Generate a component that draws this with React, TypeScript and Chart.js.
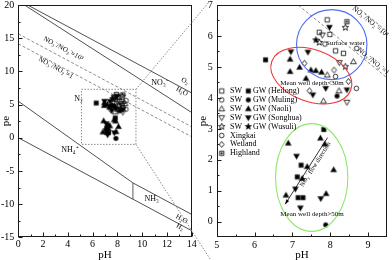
import React, { useEffect, useRef } from "react";
import { Chart, registerables } from "chart.js";

Chart.register(...registerables);

type Pt = [number, number];
const SERIF = '"Liberation Serif", "Times New Roman", serif';

// ---------------- axes ----------------
const leftXTicks = [0, 2, 4, 6, 8, 10, 12, 14];
const leftXMinor = [1, 3, 5, 7, 9, 11, 13];
const leftYTicks = [-15, -10, -5, 0, 5, 10, 15, 20];
const leftYMinor = [-12.5, -7.5, -2.5, 2.5, 7.5, 12.5, 17.5];
const rightXTicks = [5, 6, 7, 8, 9];
const rightXMinor = [5.5, 6.5, 7.5, 8.5];
const rightYTicks = [0, 1, 2, 3, 4, 5, 6, 7];
const rightYMinor = [0.5, 1.5, 2.5, 3.5, 4.5, 5.5, 6.5];

// ---------------- pe-pH boundary lines ----------------
const o2H2OLine: Pt[] = [[0, 20.75], [14, 6.75]];
const no3N2Line: Pt[] = [[0, 20.6], [14, 3.8]];
const ratio1000Line: Pt[] = [[0, 15.65], [14, 1.65]];
const ratio1Line: Pt[] = [[0, 14.15], [14, 0.15]];
const nh4N2Line: Pt[] = [[0, 5.5], [9.25, -6.8]];
const nh3N2Line: Pt[] = [[9.25, -6.8], [14, -11.55]];
const h2oH2Line: Pt[] = [[0, 0], [14, -14]];
const pKaLine: Pt[] = [[9.25, -6.8], [9.25, -9.25]];

// inset box (pH range, pe range)
const insetPH = [5.1, 9.5];
const insetPE = [-1, 7.3];

// ---------------- samples (pH, pe) ----------------
const swHeilong: Pt[] = [[7.92, 6.52], [7.71, 6.12], [7.99, 6.05], [8.14, 5.52], [8.35, 5.44]];
const gwHeilong: Pt[] = [[6.29, 5.23], [7.83, 2.98], [7.23, 1.83], [7.13, 1.45], [7.15, 0.78], [7.28, 0.78]];
const swMuling: Pt[] = [[7.86, 5.74], [8.7, 5.6], [8.14, 4.69]];
const gwMuling: Pt[] = [[8.18, 4.06], [7.88, -0.1]];
const swNaoli: Pt[] = [[8.61, 5.17], [7.92, 4.74], [8.23, 4.23], [7.82, 3.9]];
const gwNaoli: Pt[] = [
  [6.94, 5.25], [6.94, 4.85], [7.19, 4.99], [7.49, 4.9], [7.62, 4.88], [7.77, 4.83], [7.36, 4.63],
  [6.89, 2.54], [7.74, 2.7], [7.86, 2.51], [7.39, 1.78], [7.26, 1.4], [8.09, 1.68], [6.83, 0.86], [7.89, 0.91],
];
const swSonghua: Pt[] = [[7.79, 6.03], [8.24, 5.14], [8.44, 3.86]];
const gwSonghua: Pt[] = [
  [7.98, 6.28], [6.96, 5.49], [7.41, 5.48], [7.88, 4.31], [7.54, 4.1], [8.44, 4.26],
  [7.11, 2.12], [7.08, 1.06], [7.75, 0.75], [7.21, 0.45],
];
const swWusuli: Pt[] = [[8.4, 6.27], [7.71, 5.79], [8.4, 5.01]];
const gwWusuli: Pt[] = [[7.62, 5.87]];
const xingkai: Pt[] = [[8.69, 4.31]];
const wetland: Pt[] = [[7.32, 5.12], [8.1, 4.9], [8.48, 4.53], [7.45, 4.23]];
const highland: Pt[] = [[8.44, 6.46]];

const seriesDefs = [
  { name: "SW (Heilong)", data: swHeilong, marker: "square", filled: false },
  { name: "GW (Heilong)", data: gwHeilong, marker: "square", filled: true },
  { name: "SW (Muling)", data: swMuling, marker: "circle", filled: false },
  { name: "GW (Muling)", data: gwMuling, marker: "circle", filled: true },
  { name: "SW (Naoli)", data: swNaoli, marker: "up", filled: false },
  { name: "GW (Naoli)", data: gwNaoli, marker: "up", filled: true },
  { name: "SW (Songhua)", data: swSonghua, marker: "down", filled: false },
  { name: "GW (Songhua)", data: gwSonghua, marker: "down", filled: true },
  { name: "SW (Wusuli)", data: swWusuli, marker: "star", filled: false },
  { name: "GW (Wusuli)", data: gwWusuli, marker: "star", filled: true },
  { name: "Xingkai", data: xingkai, marker: "circle", filled: false },
  { name: "Wetland", data: wetland, marker: "diamond", filled: false },
  { name: "Highland", data: highland, marker: "highland", filled: false },
];

const legendRows = [
  { a: "square", t1: "SW", b: "square", t2: "GW (Heilong)" },
  { a: "circle", t1: "SW", b: "circle", t2: "GW (Muling)" },
  { a: "up", t1: "SW", b: "up", t2: "GW (Naoli)" },
  { a: "down", t1: "SW", b: "down", t2: "GW (Songhua)" },
  { a: "star", t1: "SW", b: "star", t2: "GW (Wusuli)" },
  { a: "circle", t1: "Xingkai", b: "", t2: "" },
  { a: "diamond", t1: "Wetland", b: "", t2: "" },
  { a: "highland", t1: "Highland", b: "", t2: "" },
];

// ---------------- annotations ----------------
const leftNotes = [
  { text: "NO₃⁻/NO₂⁻=10³", x: 3.63, y: 13.39, slope: true, size: 7 },
  { text: "NO₃⁻/NO₂⁻=1", x: 3.03, y: 10.52, slope: true, size: 7 },
  { text: "NO₃⁻", x: 11.44, y: 8.27, slope: false, size: 8 },
  { text: "O₂", x: 13.45, y: 8.53, slope: true, size: 7 },
  { text: "H₂O", x: 13.21, y: 6.96, slope: true, size: 7 },
  { text: "N₂", x: 4.86, y: 5.91, slope: false, size: 8 },
  { text: "NH₄⁺", x: 4.17, y: -1.8, slope: false, size: 8 },
  { text: "NH₃", x: 10.77, y: -9.27, slope: false, size: 8 },
  { text: "H₂O", x: 13.19, y: -12.26, slope: true, size: 7 },
  { text: "H₂", x: 13.05, y: -13.46, slope: true, size: 7 },
];

const rightNotes = [
  { text: "NO₃⁻/NO₂⁻=10³", x: 9.06, y: 6.46, slope: true, size: 7 },
  { text: "NO₃⁻/NO₂⁻=1", x: 9.14, y: 5.18, slope: true, size: 7 },
  { text: "Surface water", x: 8.4, y: 5.76, slope: false, size: 7 },
  { text: "Mean well depth<30m", x: 7.52, y: 4.49, slope: false, size: 7 },
  { text: "Mean well depth>50m", x: 7.52, y: 0.25, slope: false, size: 7 },
];

const ellipses = [
  { cx: 8.04, cy: 5.72, rx: 0.93, ry: 1.13, angle: 0, color: "#4f6df2" },
  { cx: 7.5, cy: 4.72, rx: 1.11, ry: 0.84, angle: 20, color: "#ec3535" },
  { cx: 7.51, cy: 1.43, rx: 0.955, ry: 1.74, angle: 0, color: "#8fe86a" },
];

const flowArrow = { from: [7.93, 2.72] as Pt, to: [6.81, 0.57] as Pt, label: "NO₃⁻ flow direction", lx: 7.61, ly: 1.85 };

// ---------------- helpers ----------------
function makeMarker(shape: string, filled: boolean): HTMLCanvasElement {
  const s = 9;
  const m = 4.5;
  const c = document.createElement("canvas");
  c.width = s;
  c.height = s;
  const g = c.getContext("2d")!;
  g.strokeStyle = "#000";
  g.fillStyle = "#000";
  g.lineWidth = filled ? 0.5 : 0.8;
  g.beginPath();
  if (shape === "square" || shape === "highland") g.rect(m - 2.2, m - 2.2, 4.4, 4.4);
  else if (shape === "circle") g.arc(m, m, 2.3, 0, Math.PI * 2);
  else if (shape === "up") {
    g.moveTo(m, m - 3);
    g.lineTo(m + 2.9, m + 2.1);
    g.lineTo(m - 2.9, m + 2.1);
    g.closePath();
  } else if (shape === "down") {
    g.moveTo(m, m + 3);
    g.lineTo(m + 2.9, m - 2.1);
    g.lineTo(m - 2.9, m - 2.1);
    g.closePath();
  } else if (shape === "star") {
    for (let i = 0; i < 10; i++) {
      const r = i % 2 === 0 ? 3.4 : 1.4;
      const a = -Math.PI / 2 + (i * Math.PI) / 5;
      const px = m + r * Math.cos(a);
      const py = m + r * Math.sin(a);
      if (i === 0) g.moveTo(px, py);
      else g.lineTo(px, py);
    }
    g.closePath();
  } else if (shape === "diamond") {
    g.moveTo(m, m - 3);
    g.lineTo(m + 2.4, m);
    g.lineTo(m, m + 3);
    g.lineTo(m - 2.4, m);
    g.closePath();
  }
  if (filled) {
    g.fill();
    g.stroke();
  } else g.stroke();
  if (shape === "highland") g.fillRect(m - 1, m - 1, 2, 2);
  return c;
}

function note(ctx: CanvasRenderingContext2D, text: string, px: number, py: number, angle: number, size: number) {
  ctx.save();
  ctx.translate(px, py);
  ctx.rotate(angle);
  ctx.font = `${size}px ${SERIF}`;
  ctx.fillStyle = "#000";
  ctx.textAlign = "center";
  ctx.textBaseline = "middle";
  ctx.fillText(text, 0, 0);
  ctx.restore();
}

function slopeAngle(chart: any) {
  const sx = chart.scales.x;
  const sy = chart.scales.y;
  return Math.atan2(sy.getPixelForValue(-1) - sy.getPixelForValue(0), sx.getPixelForValue(1) - sx.getPixelForValue(0));
}

function frameAndTicks(chart: any, xMaj: number[], xMin: number[], yMaj: number[], yMin: number[]) {
  const { ctx, chartArea: a } = chart;
  const sx = chart.scales.x;
  const sy = chart.scales.y;
  const L = Math.round(a.left) + 0.5;
  const R = Math.round(a.right) - 0.5;
  const T = Math.round(a.top) + 0.5;
  const B = Math.round(a.bottom) - 0.5;
  ctx.save();
  ctx.strokeStyle = "#1a1a1a";
  ctx.lineWidth = 1;
  ctx.strokeRect(L, T, R - L, B - T);
  ctx.beginPath();
  const xt = (v: number, len: number) => {
    const p = Math.round(sx.getPixelForValue(v)) + 0.5;
    ctx.moveTo(p, B);
    ctx.lineTo(p, B - len);
  };
  const yt = (v: number, len: number) => {
    const p = Math.round(sy.getPixelForValue(v)) + 0.5;
    ctx.moveTo(L, p);
    ctx.lineTo(L + len, p);
  };
  xMaj.forEach((v) => xt(v, 4));
  xMin.forEach((v) => xt(v, 2));
  yMaj.forEach((v) => yt(v, 4));
  yMin.forEach((v) => yt(v, 2));
  ctx.stroke();
  ctx.restore();
}

function axisCfg(ticks: number[], min: number, max: number, title: string, horizontal: boolean, size: number, tickPad: number) {
  return {
    type: "linear",
    min,
    max,
    position: horizontal ? "bottom" : "left",
    grid: { display: false, drawTicks: false },
    border: { display: false },
    ticks: { color: "#000", font: { family: SERIF, size: 10 }, padding: tickPad, autoSkip: false, maxRotation: 0 },
    title: {
      display: true,
      text: title,
      color: "#000",
      font: { family: SERIF, size: 11, lineHeight: 1 },
      padding: horizontal ? { top: 0, bottom: -0.5 } : { top: 0.5, bottom: 0 },
    },
    afterBuildTicks: (s: any) => {
      s.ticks = ticks.map((value) => ({ value }));
    },
    afterFit: (s: any) => {
      if (horizontal) s.height = size;
      else s.width = size;
      s.paddingLeft = 0;
      s.paddingRight = 0;
      s.paddingTop = 0;
      s.paddingBottom = 0;
    },
  };
}

export default function App() {
  const leftRef = useRef<HTMLCanvasElement>(null);
  const rightRef = useRef<HTMLCanvasElement>(null);

  useEffect(() => {
    const markerCache: Record<string, HTMLCanvasElement> = {};
    const marker = (shape: string, filled: boolean) => {
      const k = shape + (filled ? "F" : "O");
      if (!markerCache[k]) markerCache[k] = makeMarker(shape, filled);
      return markerCache[k];
    };

    const pointSets = () =>
      seriesDefs.map((d) => ({
        label: d.name,
        data: d.data.map(([x, y]) => ({ x, y })),
        pointStyle: marker(d.marker, d.filled) as any,
        pointRadius: 3,
        showLine: false,
      }));

    const lineSet = (pts: Pt[], color: string, width: number, dash: number[]) => ({
      label: "",
      data: pts.map(([x, y]) => ({ x, y })),
      showLine: true,
      pointRadius: 0,
      borderColor: color,
      borderWidth: width,
      borderDash: dash,
      fill: false,
    });

    const leftLines = [
      lineSet(o2H2OLine, "#505050", 1, []),
      lineSet(no3N2Line, "#505050", 1, []),
      lineSet(nh4N2Line, "#505050", 1, []),
      lineSet(nh3N2Line, "#505050", 1, []),
      lineSet(h2oH2Line, "#505050", 1, []),
      lineSet(pKaLine, "#9a9a9a", 1.6, []),
      lineSet(ratio1000Line, "#707070", 0.8, [3, 2]),
      lineSet(ratio1Line, "#707070", 0.8, [3, 2]),
    ];
    const rightLines = [
      lineSet(ratio1000Line, "#707070", 0.8, [3, 2]),
      lineSet(ratio1Line, "#707070", 0.8, [3, 2]),
    ];

    const leftDecor = {
      id: "leftDecor",
      beforeDatasetsDraw(chart: any) {
        const { ctx } = chart;
        const sx = chart.scales.x;
        const sy = chart.scales.y;
        const x0 = sx.getPixelForValue(insetPH[0]);
        const x1 = sx.getPixelForValue(insetPH[1]);
        const y0 = sy.getPixelForValue(insetPE[1]);
        const y1 = sy.getPixelForValue(insetPE[0]);
        ctx.save();
        ctx.strokeStyle = "#8a8a8a";
        ctx.lineWidth = 1;
        ctx.setLineDash([1.5, 1.5]);
        ctx.strokeRect(x0, y0, x1 - x0, y1 - y0);
        ctx.restore();
      },
      afterDatasetsDraw(chart: any) {
        const { ctx } = chart;
        const sx = chart.scales.x;
        const sy = chart.scales.y;
        const ang = slopeAngle(chart);
        leftNotes.forEach((n) => note(ctx, n.text, sx.getPixelForValue(n.x), sy.getPixelForValue(n.y), n.slope ? ang : 0, n.size));
      },
      afterDraw(chart: any) {
        frameAndTicks(chart, leftXTicks, leftXMinor, leftYTicks, leftYMinor);
      },
    };

    const left = new Chart(leftRef.current!, {
      type: "scatter",
      data: { datasets: [...pointSets(), ...leftLines] as any },
      plugins: [leftDecor],
      options: {
        responsive: false,
        animation: false,
        events: [],
        layout: { padding: { left: 0, top: 3.3, right: 200.3, bottom: 0 } },
        plugins: { legend: { display: false }, tooltip: { enabled: false } },
        scales: {
          x: axisCfg(leftXTicks, 0, 14, "pH", true, 22.7, 1) as any,
          y: axisCfg(leftYTicks, -15, 20, "pe", false, 18.3, 4) as any,
        },
      },
    });

    const rightDecor = {
      id: "rightDecor",
      afterDatasetsDraw(chart: any) {
        const { ctx, chartArea: a } = chart;
        const sx = chart.scales.x;
        const sy = chart.scales.y;
        const pxPerX = sx.getPixelForValue(1) - sx.getPixelForValue(0);
        const pxPerY = sy.getPixelForValue(0) - sy.getPixelForValue(1);
        ctx.save();
        ctx.beginPath();
        ctx.rect(a.left, a.top, a.right - a.left, a.bottom - a.top);
        ctx.clip();
        ellipses.forEach((e) => {
          ctx.beginPath();
          ctx.ellipse(sx.getPixelForValue(e.cx), sy.getPixelForValue(e.cy), e.rx * pxPerX, e.ry * pxPerY, (e.angle * Math.PI) / 180, 0, Math.PI * 2);
          ctx.strokeStyle = e.color;
          ctx.lineWidth = 1.1;
          ctx.stroke();
        });
        // flow arrow
        const fx = sx.getPixelForValue(flowArrow.from[0]);
        const fy = sy.getPixelForValue(flowArrow.from[1]);
        const tx = sx.getPixelForValue(flowArrow.to[0]);
        const ty = sy.getPixelForValue(flowArrow.to[1]);
        const dir = Math.atan2(ty - fy, tx - fx);
        ctx.strokeStyle = "#000";
        ctx.fillStyle = "#000";
        ctx.lineWidth = 0.8;
        ctx.beginPath();
        ctx.moveTo(fx, fy);
        ctx.lineTo(tx, ty);
        ctx.stroke();
        ctx.beginPath();
        ctx.moveTo(tx, ty);
        ctx.lineTo(tx - 5 * Math.cos(dir - 0.35), ty - 5 * Math.sin(dir - 0.35));
        ctx.lineTo(tx - 5 * Math.cos(dir + 0.35), ty - 5 * Math.sin(dir + 0.35));
        ctx.closePath();
        ctx.fill();
        ctx.restore();

        note(ctx, flowArrow.label, sx.getPixelForValue(flowArrow.lx), sy.getPixelForValue(flowArrow.ly), dir + Math.PI, 6.5);
        const ang = slopeAngle(chart);
        rightNotes.forEach((n) => note(ctx, n.text, sx.getPixelForValue(n.x), sy.getPixelForValue(n.y), n.slope ? ang : 0, n.size));

        // legend
        ctx.save();
        ctx.font = `8px ${SERIF}`;
        ctx.fillStyle = "#000";
        ctx.textBaseline = "middle";
        ctx.textAlign = "left";
        legendRows.forEach((r, i) => {
          const y = a.top + 86 + i * 8.9;
          const m1 = marker(r.a, false);
          ctx.drawImage(m1, a.left + 5 - m1.width / 2, y - m1.height / 2);
          ctx.fillText(r.t1, a.left + 13.3, y);
          if (r.b) {
            const m2 = marker(r.b, true);
            ctx.drawImage(m2, a.left + 31.6 - m2.width / 2, y - m2.height / 2);
            ctx.fillText(r.t2, a.left + 36.3, y);
          }
        });
        ctx.restore();
      },
      afterDraw(chart: any) {
        frameAndTicks(chart, rightXTicks, rightXMinor, rightYTicks, rightYMinor);
        // zoom connectors from the inset box of the left panel
        const { ctx, chartArea: a } = chart;
        const lx = left.scales.x;
        const ly = left.scales.y;
        const bx = lx.getPixelForValue(insetPH[1]);
        const bTop = ly.getPixelForValue(insetPE[1]);
        const bBot = ly.getPixelForValue(insetPE[0]);
        const ex = a.left - 6;
        ctx.save();
        ctx.strokeStyle = "#8a8a8a";
        ctx.lineWidth = 1;
        ctx.setLineDash([1.5, 1.5]);
        ctx.beginPath();
        ctx.moveTo(bx, bTop);
        ctx.lineTo(ex, 0);
        ctx.moveTo(bx, bBot);
        ctx.lineTo(ex, chart.height);
        ctx.stroke();
        ctx.restore();
      },
    };

    const right = new Chart(rightRef.current!, {
      type: "scatter",
      data: { datasets: [...pointSets(), ...rightLines] as any },
      plugins: [rightDecor],
      options: {
        responsive: false,
        animation: false,
        events: [],
        layout: { padding: { left: 197, top: 3.3, right: 0.3, bottom: 0 } },
        plugins: { legend: { display: false }, tooltip: { enabled: false } },
        scales: {
          x: axisCfg(rightXTicks, 5, 9.5, "pH", true, 22.7, 2.5) as any,
          y: axisCfg(rightYTicks, -0.5, 7, "pe", false, 19.7, 4) as any,
        },
      },
    });

    return () => {
      right.destroy();
      left.destroy();
    };
  }, []);

  return (
    <div style={{ position: "fixed", left: 0, top: 0, width: 392, height: 260, background: "#fff" }}>
      <canvas ref={leftRef} width={392} height={260} style={{ position: "absolute", left: 0, top: 0 }} />
      <canvas ref={rightRef} width={392} height={260} style={{ position: "absolute", left: 0, top: 0 }} />
    </div>
  );
}
